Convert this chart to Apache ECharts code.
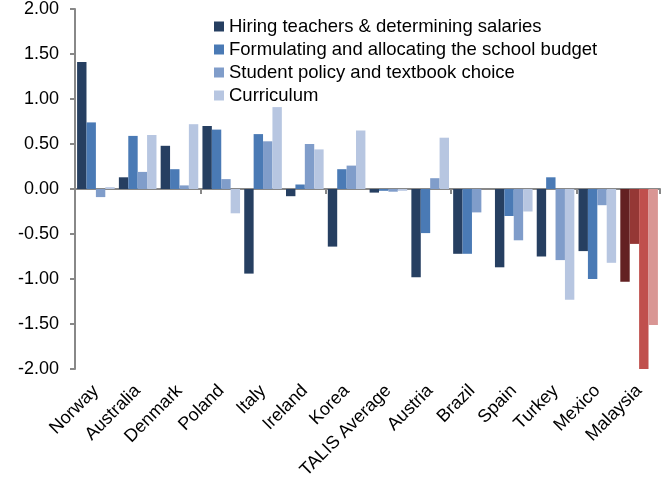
<!DOCTYPE html>
<html>
<head>
<meta charset="utf-8">
<script src="https://cdn.jsdelivr.net/npm/echarts@6/dist/echarts.min.js"></script>
</head>
<body style="margin:0">
<div id="main" style="width:666px;height:478px;"></div>
<script>
var countries = ['Norway', 'Australia', 'Denmark', 'Poland', 'Italy', 'Ireland', 'Korea',
    'TALIS Average', 'Austria', 'Brazil', 'Spain', 'Turkey', 'Mexico', 'Malaysia'];
var hiring = [1.41, 0.13, 0.48, 0.70, -0.94, -0.08, -0.64, -0.04, -0.98, -0.72, -0.87, -0.75, -0.69, -1.03];
var budget = [0.74, 0.59, 0.22, 0.66, 0.61, 0.05, 0.22, -0.02, -0.49, -0.72, -0.30, 0.13, -1.00, -0.61];
var student = [-0.09, 0.19, 0.04, 0.11, 0.53, 0.50, 0.26, -0.03, 0.12, -0.26, -0.57, -0.79, -0.18, -2.00];
var curriculum = [0.02, 0.60, 0.72, -0.27, 0.91, 0.44, 0.65, -0.02, 0.57, null, -0.25, -1.23, -0.82, -1.51];
var names = ['Hiring teachers & determining salaries', 'Formulating and allocating the school budget',
    'Student policy and textbook choice', 'Curriculum'];
var blues = ['#263f61', '#4a7ab5', '#809dca', '#b7c6e1'];
var reds = ['#632122', '#953735', '#c0504d', '#d99694'];
var yTicks = [-2, -1.5, -1, -0.5, 0, 0.5, 1, 1.5, 2];

var chart = echarts.init(document.getElementById('main'));
var font = 'Liberation Sans, Arial, sans-serif';

function makeSeries(idx, values) {
    var last = countries.length - 1;
    return {
        name: names[idx],
        type: 'bar',
        xAxisIndex: 0,
        barGap: '0%',
        barCategoryGap: '10%',
        itemStyle: { color: blues[idx] },
        data: values.map(function (v, i) {
            if (i === last) return { value: v, itemStyle: { color: reds[idx] } };
            return v;
        })
    };
}

var option = {
    animation: false,
    color: blues,
    textStyle: { fontFamily: font },
    legend: {
        orient: 'vertical',
        left: 209,
        top: 12,
        itemWidth: 10,
        itemHeight: 10,
        itemGap: 4,
        itemTextGap: 4,
        icon: 'rect',
        textStyle: { fontFamily: font, fontSize: 18.5, color: '#000', lineHeight: 18 },
        data: names
    },
    grid: { left: 75, right: 6, top: 9, bottom: 109, outerBoundsMode: 'none', containLabel: false },
    xAxis: [{
        type: 'category',
        data: countries,
        position: 'bottom',
        axisLine: { show: false, onZero: false },
        axisTick: { show: false },
        axisLabel: { rotate: 45, interval: 0, fontSize: 18, color: '#000', margin: 19, fontFamily: font }
    }, {
        type: 'category',
        data: countries,
        position: 'bottom',
        axisLine: { show: true, onZero: true, lineStyle: { color: '#888', width: 2 } },
        axisTick: { show: true, length: 5, lineStyle: { color: '#888', width: 2 } },
        axisLabel: { show: false }
    }],
    yAxis: {
        type: 'value',
        min: yTicks[0],
        max: yTicks[yTicks.length - 1],
        interval: 0.5,
        axisLine: { show: true, lineStyle: { color: '#888', width: 2 } },
        axisTick: { show: true, length: 5, lineStyle: { color: '#888', width: 2 } },
        splitLine: { show: false },
        axisLabel: {
            fontSize: 18, color: '#000', margin: 16, fontFamily: font,
            formatter: function (v) { return v.toFixed(2); }
        }
    },
    series: [
        makeSeries(0, hiring),
        makeSeries(1, budget),
        makeSeries(2, student),
        makeSeries(3, curriculum)
    ]
};
chart.setOption(option);
</script>
</body>
</html>
